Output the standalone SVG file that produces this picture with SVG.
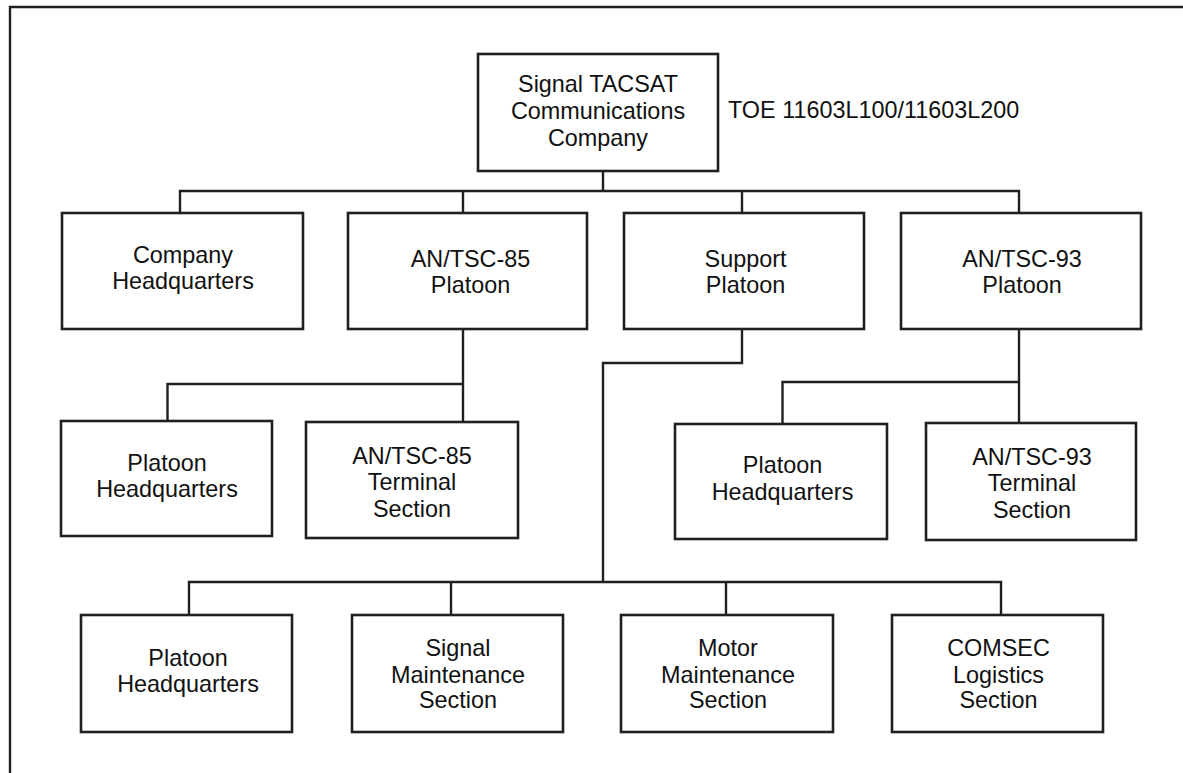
<svg xmlns="http://www.w3.org/2000/svg" width="1183" height="773" viewBox="0 0 1183 773">
  <style>
    .box { fill: #ffffff; stroke: #231f20; stroke-width: 2.6; }
    .wire { fill: none; stroke: #231f20; stroke-width: 2.4; }
    .frame { fill: none; stroke: #231f20; stroke-width: 2.4; }
    text { font-family: "Liberation Sans", Arial, Helvetica, sans-serif; font-size: 23.4px; fill: #111111; text-anchor: middle; }
    .note { text-anchor: start; }
  </style>
  <rect x="0" y="0" width="1183" height="773" fill="#ffffff"/>

  <!-- page frame (top and left edges) -->
  <path class="frame" d="M10,773 V7 H1183"/>

  <!-- connectors -->
  <g id="connectors">
    <path class="wire" d="M603,171 V191"/>
    <path class="wire" d="M180,213 V191 H1019 V213"/>
    <path class="wire" d="M463,191 V213"/>
    <path class="wire" d="M742,191 V213"/>
    <path class="wire" d="M463,329 V422"/>
    <path class="wire" d="M167.5,421 V384 H463"/>
    <path class="wire" d="M1019,329 V423"/>
    <path class="wire" d="M782.5,424 V382 H1019"/>
    <path class="wire" d="M742,329 V363 H603 V582"/>
    <path class="wire" d="M189,615 V582 H1001 V615"/>
    <path class="wire" d="M451,582 V615"/>
    <path class="wire" d="M726,582 V615"/>
  </g>

  <!-- company -->
  <g id="company">
    <rect class="box" x="478" y="54" width="240" height="117"/>
    <text x="598" y="92">Signal TACSAT</text>
    <text x="598" y="119">Communications</text>
    <text x="598" y="146">Company</text>
  </g>
  <g id="toe-label">
    <text class="note" x="728" y="118">TOE 11603L100/11603L200</text>
  </g>

  <!-- first level -->
  <g id="company-hq">
    <rect class="box" x="62" y="213" width="241" height="116"/>
    <text x="183" y="263">Company</text>
    <text x="183" y="289">Headquarters</text>
  </g>
  <g id="tsc85-platoon">
    <rect class="box" x="348" y="213" width="239" height="116"/>
    <text x="470.5" y="267">AN/TSC-85</text>
    <text x="470.5" y="293">Platoon</text>
  </g>
  <g id="support-platoon">
    <rect class="box" x="624" y="213" width="240" height="116"/>
    <text x="745.5" y="267">Support</text>
    <text x="745.5" y="293">Platoon</text>
  </g>
  <g id="tsc93-platoon">
    <rect class="box" x="901" y="213" width="240" height="116"/>
    <text x="1022" y="267">AN/TSC-93</text>
    <text x="1022" y="293">Platoon</text>
  </g>

  <!-- AN/TSC-85 platoon sections -->
  <g id="tsc85-platoon-hq">
    <rect class="box" x="61" y="421" width="211" height="115"/>
    <text x="167" y="471">Platoon</text>
    <text x="167" y="497">Headquarters</text>
  </g>
  <g id="tsc85-terminal">
    <rect class="box" x="306" y="422" width="212" height="116"/>
    <text x="412" y="464">AN/TSC-85</text>
    <text x="412" y="490">Terminal</text>
    <text x="412" y="517">Section</text>
  </g>

  <!-- AN/TSC-93 platoon sections -->
  <g id="tsc93-platoon-hq">
    <rect class="box" x="675" y="424" width="212" height="115"/>
    <text x="782.5" y="473">Platoon</text>
    <text x="782.5" y="500">Headquarters</text>
  </g>
  <g id="tsc93-terminal">
    <rect class="box" x="926" y="423" width="210" height="117"/>
    <text x="1032" y="465">AN/TSC-93</text>
    <text x="1032" y="491">Terminal</text>
    <text x="1032" y="518">Section</text>
  </g>

  <!-- support platoon sections -->
  <g id="support-platoon-hq">
    <rect class="box" x="81" y="615" width="211" height="117"/>
    <text x="188" y="666">Platoon</text>
    <text x="188" y="692">Headquarters</text>
  </g>
  <g id="signal-maintenance">
    <rect class="box" x="352" y="615" width="211" height="117"/>
    <text x="458" y="656">Signal</text>
    <text x="458" y="683">Maintenance</text>
    <text x="458" y="708">Section</text>
  </g>
  <g id="motor-maintenance">
    <rect class="box" x="621" y="615" width="212" height="117"/>
    <text x="728" y="656">Motor</text>
    <text x="728" y="683">Maintenance</text>
    <text x="728" y="708">Section</text>
  </g>
  <g id="comsec-logistics">
    <rect class="box" x="892" y="615" width="211" height="117"/>
    <text x="998.5" y="656">COMSEC</text>
    <text x="998.5" y="683">Logistics</text>
    <text x="998.5" y="708">Section</text>
  </g>
</svg>
